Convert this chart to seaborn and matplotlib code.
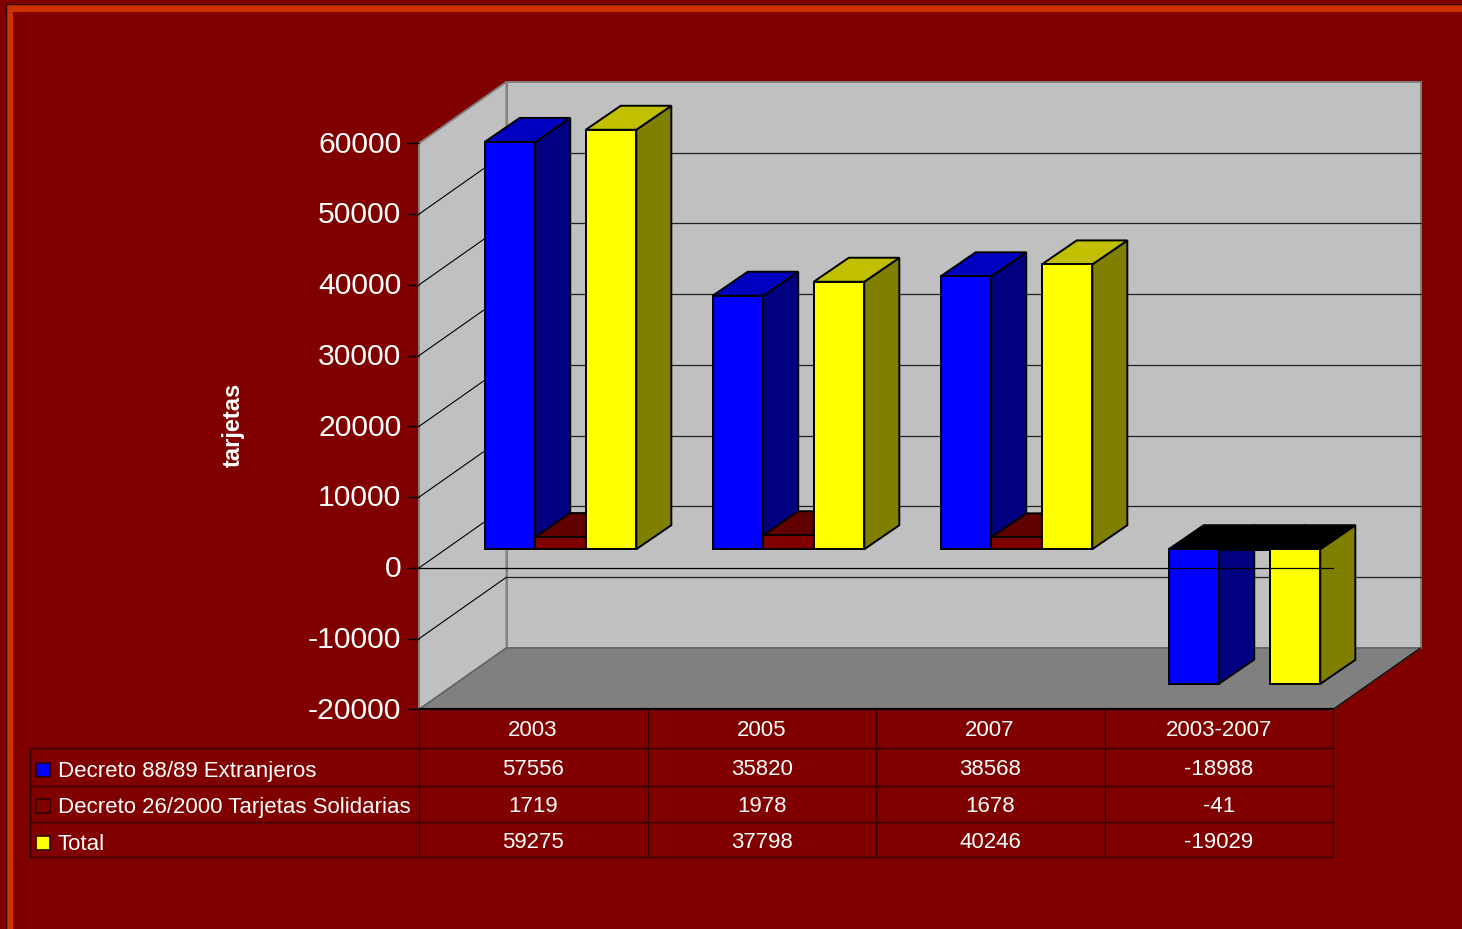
# Tarjetas chart - fake 3D columns with data table under it
import numpy as np
import pandas as pd
import seaborn as sns
import matplotlib.pyplot as plt
from matplotlib.patches import Polygon, Rectangle
from matplotlib.transforms import IdentityTransform, ScaledTranslation

# ==========================================
# Data
# ==========================================

periods = ['2003', '2005', '2007', '2003-2007']
series_names = ['Decreto 88/89 Extranjeros', 'Decreto 26/2000 Tarjetas Solidarias', 'Total']
extranjeros = [57556, 35820, 38568, -18988]
solidarias = [1719, 1978, 1678, -41]
total = [59275, 37798, 40246, -19029]
y_ticks = [-20000, -10000, 0, 10000, 20000, 30000, 40000, 50000, 60000]
y_tick_labels = ['-20000', '-10000', '0', '10000', '20000', '30000', '40000', '50000', '60000']

# front, side, top
front_colors = ['#0000FF', '#800000', '#FFFF00']
side_colors = ['#000080', '#400000', '#808000']
top_colors = ['#0000C0', '#600000', '#C0C000']

df = pd.DataFrame({
    'period': periods * 3,
    'series': np.repeat(series_names, 4),
    'value': extranjeros + solidarias + total
})

# ==========================================
# Figure + layers
# ==========================================

sns.set_theme(style='white')
plt.rcParams['font.family'] = ['Liberation Sans', 'DejaVu Sans']

W, H = 1462, 929
fig = plt.figure(figsize=(W / 100, (H + 0.2) / 100), dpi=100, facecolor='#800000')


def px_axes(left, top, right, bottom):
    return fig.add_axes([left / W, 1 - bottom / H, (right - left) / W, (bottom - top) / H])


bg = px_axes(0, 0, W, H)
bg.set_xlim(0, W)
bg.set_ylim(H, 0)
bg.axis('off')
bg.set_zorder(0)

PLANE_L, PLANE_R, PLANE_T, PLANE_B = 419, 1333, 143.5, 709.5
ax = px_axes(PLANE_L, PLANE_T, PLANE_R, PLANE_B)
ax.set_zorder(1)
ax.patch.set_alpha(0)
ax.set_ylim(-20000, 60000)
ax.set_xticks([])
ax.set_yticks(y_ticks)
ax.set_yticklabels(y_tick_labels, fontsize=21.7, color='white')
ax.tick_params(axis='y', left=True, length=8.6, width=1, color='black', pad=4.1)
for s in ax.spines.values():
    s.set_visible(False)
for lab in ax.get_yticklabels():
    lab.set_transform(lab.get_transform() + ScaledTranslation(0, 2 / 100, fig.dpi_scale_trans))

# bars sit a bit inside the box
BARS_L, BARS_R, SHIFT_Y = 446.5, 1358.5, -18.7
ax2 = px_axes(BARS_L, PLANE_T + SHIFT_Y, BARS_R, PLANE_B + SHIFT_Y)
ax2.set_zorder(2)
ax2.patch.set_alpha(0)

sns.barplot(
    data=df, x='period', y='value', hue='series',
    hue_order=series_names, order=periods,
    palette=front_colors, saturation=1, width=0.665, gap=0,
    edgecolor='black', linewidth=1.4,
    legend=False, ax=ax2
)
ax2.set_ylim(-20000, 60000)
ax2.set_xlim(-0.5, 3.5)
ax2.axis('off')

# ==========================================
# Outer border, walls, floor
# ==========================================

bg.add_patch(Rectangle((5.5, 4.5), W, H, fc='#CC3300', ec='#300000', lw=1, zorder=0.1))
bg.add_patch(Rectangle((13, 12), W, H, fc='#800000', ec='none', zorder=0.2))

DEPTH_X, DEPTH_Y = 87.5, -61.5


def val_y(v):
    return PLANE_B - (v + 20000) / 80000 * (PLANE_B - PLANE_T)


bg.add_patch(Polygon(
    [(PLANE_L + DEPTH_X, PLANE_T + DEPTH_Y), (PLANE_R + DEPTH_X, PLANE_T + DEPTH_Y),
     (PLANE_R + DEPTH_X, PLANE_B + DEPTH_Y), (PLANE_L + DEPTH_X, PLANE_B + DEPTH_Y)],
    fc='#C0C0C0', ec='#808080', lw=1.4, zorder=1))
bg.add_patch(Polygon(
    [(PLANE_L, PLANE_T), (PLANE_L + DEPTH_X, PLANE_T + DEPTH_Y),
     (PLANE_L + DEPTH_X, PLANE_B + DEPTH_Y), (PLANE_L, PLANE_B)],
    fc='#C0C0C0', ec='#808080', lw=1.4, zorder=1))
bg.add_patch(Polygon(
    [(PLANE_L, PLANE_B), (PLANE_L + DEPTH_X, PLANE_B + DEPTH_Y),
     (PLANE_R + DEPTH_X, PLANE_B + DEPTH_Y), (PLANE_R, PLANE_B)],
    fc='#808080', ec='#606060', lw=1, zorder=1))

for v in y_ticks[1:-1]:
    y = val_y(v)
    bg.plot([PLANE_L, PLANE_L + DEPTH_X], [y, y + DEPTH_Y], color='black', lw=0.8, zorder=2)
    bg.plot([PLANE_L + DEPTH_X, PLANE_R + DEPTH_X], [y + DEPTH_Y, y + DEPTH_Y], color='#202020', lw=0.9, zorder=2)
bg.plot([PLANE_R, PLANE_R + DEPTH_X], [PLANE_B, PLANE_B + DEPTH_Y], color='black', lw=0.8, zorder=2)
bg.plot([PLANE_L, PLANE_R], [PLANE_B, PLANE_B], color='black', lw=1.6, zorder=2)

# ==========================================
# Fake 3D on the bars (left to right, so later ones cover)
# ==========================================

fig.canvas.draw()
BAR_DX, BAR_DY = 35, 24
to_px = ax2.transData

patches = [p for p in ax2.patches]
n_per = len(periods)
bars = []
for s_i in range(len(series_names)):
    for c_i in range(n_per):
        bars.append((c_i, s_i, patches[s_i * n_per + c_i]))
bars.sort(key=lambda b: (b[0], b[1]))

z = 3
for c_i, s_i, p in bars:
    x0, x1 = p.get_x(), p.get_x() + p.get_width()
    y0, y1 = sorted([p.get_y(), p.get_y() + p.get_height()])
    # negative bars hang from zero, the top face is at zero and black
    (ax0, by0), (ax1, ty1) = to_px.transform([(x0, y0), (x1, y1)])
    top_color = 'black' if p.get_height() < 0 else top_colors[s_i]
    side = Polygon([(ax1, by0), (ax1 + BAR_DX, by0 + BAR_DY), (ax1 + BAR_DX, ty1 + BAR_DY), (ax1, ty1)],
                   fc=side_colors[s_i], ec='black', lw=1.4, transform=IdentityTransform(), zorder=z)
    top = Polygon([(ax0, ty1), (ax0 + BAR_DX, ty1 + BAR_DY), (ax1 + BAR_DX, ty1 + BAR_DY), (ax1, ty1)],
                  fc=top_color, ec='black', lw=1.4, transform=IdentityTransform(), zorder=z + 1)
    ax2.add_patch(side)
    ax2.add_patch(top)
    side.set_clip_on(False)
    top.set_clip_on(False)
    p.set_zorder(z + 2)
    p.set_clip_on(False)
    z += 3

# zero line runs over everything
ax2.plot([0, 1], [0, 0], color='black', lw=0.9, zorder=z, clip_on=False,
         transform=ax.get_yaxis_transform())

fig.text(233 / W, 1 - 425 / H, 'tarjetas', rotation=90, color='white', fontsize=17,
         fontweight='bold', ha='center', va='center')

# ==========================================
# Data table
# ==========================================

col_x = [419, 648, 876, 1105, 1333]
col_cx = [533, 762, 990, 1219]
row_y = [748, 786, 822, 857]
value_rows = [extranjeros, solidarias, total]
header_y = 730
value_y = [769, 806, 842]
label_y = [771, 807, 844]
swatch_y = [770, 806, 843]

tbl_color = '#300000'
for x in col_x:
    bg.plot([x, x], [PLANE_B, row_y[-1]], color=tbl_color, lw=1, zorder=2)
bg.plot([30, 30], [row_y[0], row_y[-1]], color=tbl_color, lw=1, zorder=2)
for y in row_y:
    bg.plot([30, PLANE_R], [y, y], color=tbl_color, lw=1, zorder=2)

for i, name in enumerate(periods):
    bg.text(col_cx[i], header_y, name, color='white', fontsize=16, ha='center', va='center', zorder=3)
    for r, row in enumerate(value_rows):
        bg.text(col_cx[i], value_y[r], str(row[i]), color='white', fontsize=16, ha='center', va='center', zorder=3)

for r, name in enumerate(series_names):
    bg.add_patch(Rectangle((36, swatch_y[r] - 7), 14, 14, fc=front_colors[r], ec='#300000', lw=1.2, zorder=3))
    bg.text(58, label_y[r], name, color='white', fontsize=16, ha='left', va='center', zorder=3)

fig.savefig('out.png', dpi=100, facecolor=fig.get_facecolor())
